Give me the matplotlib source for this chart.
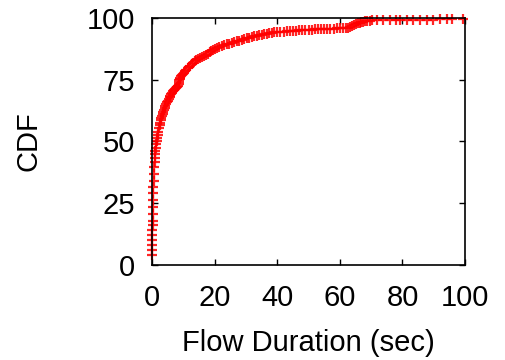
import matplotlib
matplotlib.use('Agg')
import matplotlib.pyplot as plt

plt.rcParams['font.family'] = ['Liberation Sans', 'DejaVu Sans']

# flow duration (sec) and CDF (%)
durations = [0.0, 0.03, 0.06, 0.09, 0.12, 0.15, 0.18, 0.21, 0.25, 0.3, 0.35, 0.4,
             0.45, 0.5, 0.6, 0.7, 0.8, 0.9, 1.0, 1.1, 1.2, 1.35, 1.5, 1.65, 1.8,
             2.0, 2.2, 2.4, 2.6, 2.8, 3.0, 3.2, 3.4, 3.6, 3.8, 4.0, 4.25, 4.5,
             4.75, 5.0, 5.3, 5.6, 5.9, 6.2, 6.5, 6.8, 7.1, 7.4, 7.7, 8.0, 8.3,
             8.5, 8.6, 8.7, 8.8, 9.0, 9.3, 9.6, 9.9, 10.2, 10.6, 11.0, 11.4,
             11.8, 12.2, 12.7, 13.2, 13.7, 14.2, 14.8, 15.4, 16.0, 16.6, 17.2,
             17.8, 18.4, 19.0, 19.6, 20.2, 20.8, 21.5, 22.2, 23.0, 23.8, 24.6,
             25.4, 26.2, 27.0, 27.8, 28.6, 29.4, 30.2, 31.0, 31.8, 32.6, 33.4,
             34.2, 35.0, 35.8, 36.6, 37.4, 38.2, 39.0, 40.0, 41.0, 42.0, 43.0,
             44.0, 45.0, 46.0, 47.0, 48.0, 49.0, 50.0, 51.0, 52.0, 53.0, 54.0,
             55.0, 56.0, 57.0, 58.0, 59.0, 60.0, 61.0, 62.0, 62.7, 63.3, 63.9,
             64.5, 65.1, 65.7, 66.3, 66.9, 67.5, 68.1, 68.7, 69.5, 70.3, 71.8,
             73.9, 76.0, 78.0, 79.2, 81.4, 83.5, 85.6, 87.8, 89.9, 92.0, 94.1,
             95.7, 99.4]
cdf = [4.0, 6.0, 8.0, 10.0, 12.0, 14.0, 16.0, 18.0, 20.5, 23.5, 26.5, 29.0,
       31.5, 34.0, 37.0, 39.5, 41.5, 43.5, 45.0, 46.3, 47.5, 49.0, 50.3, 51.5,
       52.7, 54.0, 55.3, 56.5, 57.6, 58.6, 59.5, 60.4, 61.3, 62.1, 62.9, 63.6,
       64.4, 65.1, 65.8, 66.5, 67.2, 67.9, 68.5, 69.1, 69.7, 70.3, 70.8, 71.3,
       71.7, 72.1, 72.6, 73.2, 74.0, 74.8, 75.4, 75.9, 76.4, 76.9, 77.4, 77.9,
       78.5, 79.1, 79.7, 80.2, 80.7, 81.3, 81.9, 82.4, 82.9, 83.4, 83.9, 84.4,
       84.8, 85.2, 85.6, 86.1, 86.6, 87.1, 87.6, 88.0, 88.4, 88.7, 89.0, 89.3,
       89.6, 89.9, 90.2, 90.5, 90.8, 91.1, 91.4, 91.7, 92.0, 92.3, 92.6, 92.9,
       93.1, 93.3, 93.5, 93.7, 93.9, 94.0, 94.2, 94.3, 94.4, 94.5, 94.6, 94.7,
       94.8, 94.9, 95.0, 95.1, 95.2, 95.3, 95.3, 95.4, 95.5, 95.5, 95.6, 95.6,
       95.7, 95.7, 95.8, 95.8, 95.9, 96.0, 96.1, 96.5, 96.9, 97.3, 97.6, 97.9,
       98.1, 98.3, 98.5, 98.7, 98.8, 98.9, 99.0, 99.1, 99.1, 99.2, 99.2, 99.2,
       99.3, 99.3, 99.3, 99.3, 99.3, 99.4, 99.4, 99.4, 99.4]

fig = plt.figure(figsize=(5.05, 3.6), dpi=100)
ax = fig.add_axes([0.301, 0.264, 0.620, 0.686])

ax.plot(durations, cdf, linestyle='none', marker='+', markersize=7,
        markeredgewidth=1.6, color='#ff0000', alpha=0.85, clip_on=False)

ax.set_xlim(0, 100)
ax.set_ylim(0, 100)
ax.set_xticks([0, 20, 40, 60, 80, 100])
ax.set_yticks([0, 25, 50, 75, 100])
ax.tick_params(direction='in', length=4, width=1, top=True, right=True,
               labelsize=21)
ax.tick_params(axis='x', pad=14)
ax.tick_params(axis='y', pad=12)
for s in ax.spines.values():
    s.set_linewidth(1.2)

ax.set_xlabel('Flow Duration (sec)', fontsize=21, labelpad=12)
ax.set_ylabel('CDF', fontsize=21, labelpad=32)

fig.savefig('out.png', dpi=100)
